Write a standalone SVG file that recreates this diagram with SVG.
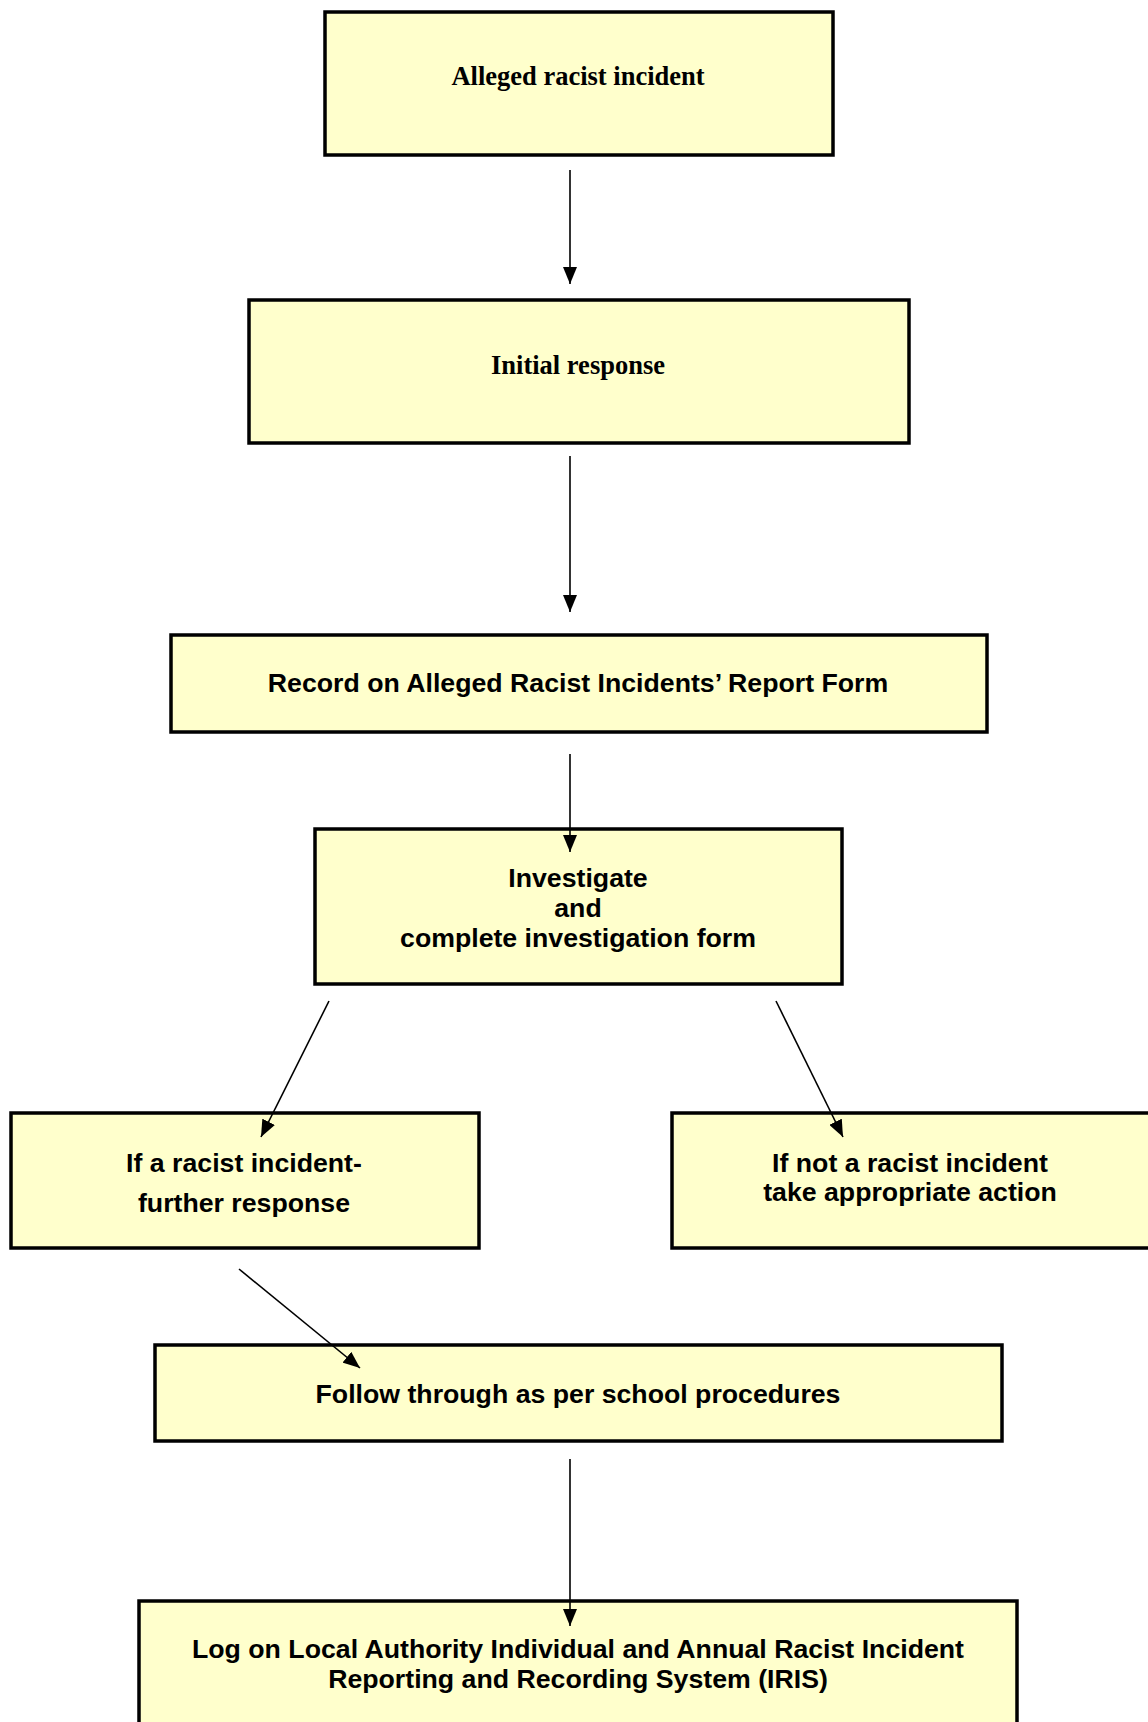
<svg xmlns="http://www.w3.org/2000/svg" width="1148" height="1722" viewBox="0 0 1148 1722">
<style>
.box{fill:#FFFFCC;stroke:#000;stroke-width:3.5}
.t{font-family:"Liberation Serif","Times New Roman",serif;font-weight:bold;font-size:26.5px;fill:#000;text-anchor:middle}
.a{font-family:"Liberation Sans",Arial,sans-serif;font-weight:bold;font-size:26.7px;fill:#000;text-anchor:middle}
.c{stroke:#000;stroke-width:1.6;fill:none;marker-end:url(#ah)}
</style>
<defs>
<marker id="ah" markerUnits="userSpaceOnUse" markerWidth="17" markerHeight="14" refX="17" refY="7" orient="auto">
<path d="M0,0 L17,7 L0,14 z" fill="#000"/>
</marker>
</defs>
<rect width="1148" height="1722" fill="#fff"/>
<g id="n1"><rect class="box" x="325" y="12" width="508" height="143"/><text class="t" x="578" y="85">Alleged racist incident</text></g>
<g id="n2"><rect class="box" x="249" y="300" width="660" height="143"/><text class="t" x="578" y="374">Initial response</text></g>
<g id="n3"><rect class="box" x="171" y="635" width="816" height="97"/><text class="a" x="578" y="692" font-size="27.3">Record on Alleged Racist Incidents’ Report Form</text></g>
<g id="n4"><rect class="box" x="315" y="829" width="527" height="155"/><text class="a" x="578" y="887">Investigate</text><text class="a" x="578" y="917">and</text><text class="a" x="578" y="947">complete investigation form</text></g>
<g id="n5"><rect class="box" x="11" y="1113" width="468" height="135"/><text class="a" x="244" y="1172">If a racist incident-</text><text class="a" x="244" y="1212">further response</text></g>
<g id="n6"><rect class="box" x="672" y="1113" width="490" height="135"/><text class="a" x="910" y="1172">If not a racist incident</text><text class="a" x="910" y="1201">take appropriate action</text></g>
<g id="n7"><rect class="box" x="155" y="1345" width="847" height="96"/><text class="a" x="578" y="1403">Follow through as per school procedures</text></g>
<g id="n8"><rect class="box" x="139" y="1601" width="878" height="140"/><text class="a" x="578" y="1658">Log on Local Authority Individual and Annual Racist Incident</text><text class="a" x="578" y="1688">Reporting and Recording System (IRIS)</text></g>
<g id="connectors">
<line class="c" x1="570" y1="170" x2="570" y2="284"/>
<line class="c" x1="570" y1="456" x2="570" y2="612"/>
<line class="c" x1="570" y1="754" x2="570" y2="852"/>
<line class="c" x1="329" y1="1001" x2="261" y2="1137"/>
<line class="c" x1="776" y1="1001" x2="843" y2="1137"/>
<line class="c" x1="239" y1="1269" x2="360" y2="1368"/>
<line class="c" x1="570" y1="1459" x2="570" y2="1626"/>
</g>
</svg>
